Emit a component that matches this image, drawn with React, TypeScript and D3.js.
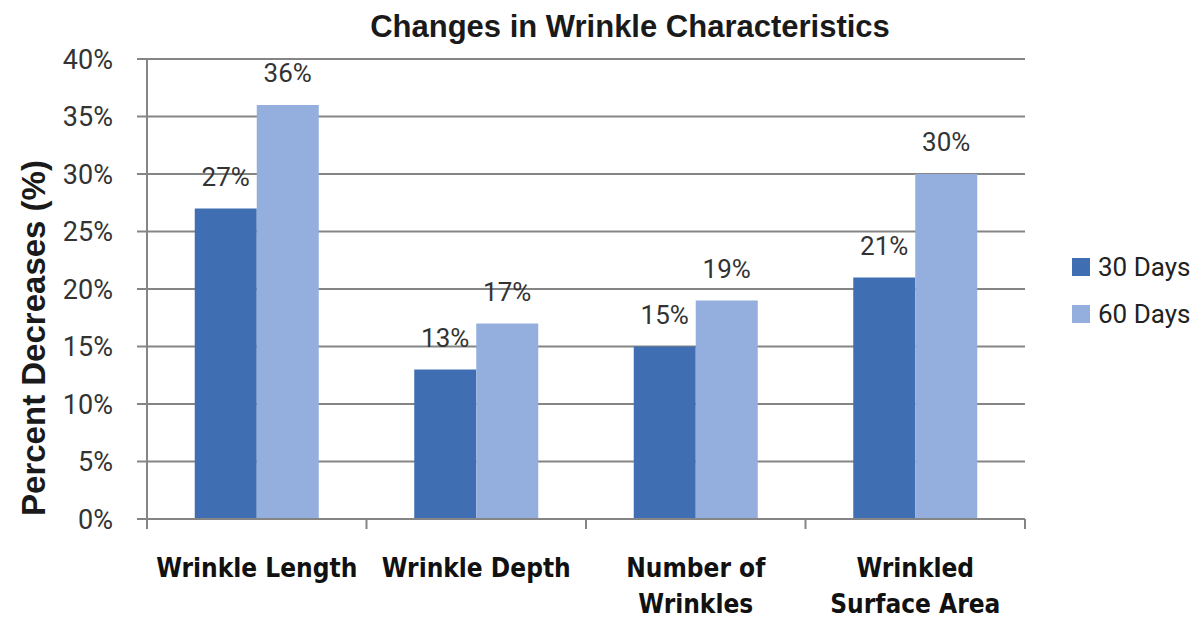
import React from 'react';
import * as d3 from 'd3';

const categories = ['Wrinkle Length', 'Wrinkle Depth', 'Number of\nWrinkles', 'Wrinkled\nSurface Area'];
const series = ['30 Days', '60 Days'];
const days30 = [27, 13, 15, 21];
const days60 = [36, 17, 19, 30];
const yTicks = [0, 5, 10, 15, 20, 25, 30, 35, 40];

const colors = ['#3f6fb2', '#94afdd'];
const gridColor = '#858585';

const W = 1199;
const H = 621;
const margin = { left: 147, right: 174, top: 59, bottom: 102 };

export default function App() {
  const x0 = d3
    .scaleBand<string>()
    .domain(categories)
    .range([margin.left, W - margin.right])
    .padding(0);

  const x1 = d3
    .scaleBand<string>()
    .domain(series)
    .range([0, x0.bandwidth()])
    .paddingInner(0)
    .paddingOuter(0.77);

  const y = d3.scaleLinear().domain([0, 40]).range([H - margin.bottom, margin.top]);

  const values = [days30, days60];
  const tickX = [...categories.map((c) => x0(c) || 0), W - margin.right];

  return (
    <svg
      width={W}
      height={H}
      style={{ position: 'absolute', left: 0, top: 0, background: '#fff' }}
    >
      {/* gridlines + y ticks */}
      {yTicks.map((t) => (
        <g key={t}>
          <line
            x1={margin.left - 10}
            x2={W - margin.right}
            y1={y(t)}
            y2={y(t)}
            stroke={gridColor}
            strokeWidth={2}
          />
          <text
            x={113}
            y={y(t)}
            dy="0.36em"
            textAnchor="end"
            fontFamily="Roboto, Arial, sans-serif"
            fontSize={27}
            fill="#333"
          >
            {t}%
          </text>
        </g>
      ))}

      {/* y axis */}
      <line x1={margin.left} x2={margin.left} y1={y(40)} y2={y(0)} stroke={gridColor} strokeWidth={2} />

      {/* bars */}
      {categories.map((c, i) => (
        <g key={c} transform={`translate(${x0(c)},0)`}>
          {series.map((s, j) => {
            const v = values[j][i];
            const bx = x1(s) || 0;
            return (
              <g key={s}>
                <rect
                  x={bx}
                  y={y(v)}
                  width={x1.bandwidth()}
                  height={y(0) - y(v)}
                  fill={colors[j]}
                />
                <text
                  x={bx + x1.bandwidth() / 2}
                  y={y(v) - 23}
                  textAnchor="middle"
                  fontFamily="Roboto, Arial, sans-serif"
                  fontSize={26}
                  fill="#333"
                >
                  {v}%
                </text>
              </g>
            );
          })}
        </g>
      ))}

      {/* x axis */}
      <line x1={margin.left} x2={W - margin.right} y1={y(0)} y2={y(0)} stroke={gridColor} strokeWidth={2} />
      {tickX.map((tx, i) => (
        <line key={i} x1={tx} x2={tx} y1={y(0)} y2={y(0) + 10} stroke={gridColor} strokeWidth={2} />
      ))}

      {/* category labels */}
      {categories.map((c) => (
        <text
          key={c}
          x={(x0(c) || 0) + x0.bandwidth() / 2}
          y={577}
          textAnchor="middle"
          fontFamily="'DejaVu Sans Condensed', 'DejaVu Sans', sans-serif"
          fontStretch="condensed"
          fontWeight="bold"
          fontSize={26}
          fill="#111"
        >
          {c.split('\n').map((line, k) => (
            <tspan key={k} x={(x0(c) || 0) + x0.bandwidth() / 2} dy={k === 0 ? 0 : 36}>
              {line}
            </tspan>
          ))}
        </text>
      ))}

      {/* title */}
      <text
        x={630}
        y={37}
        textAnchor="middle"
        fontFamily="'Liberation Sans', Arial, sans-serif"
        fontWeight="bold"
        fontSize={31}
        fill="#1a1a1a"
      >
        Changes in Wrinkle Characteristics
      </text>

      {/* y axis title */}
      <text
        transform={`translate(45,338) rotate(-90)`}
        textAnchor="middle"
        fontFamily="'Liberation Sans', Arial, sans-serif"
        fontWeight="bold"
        fontSize={33}
        fill="#1a1a1a"
      >
        Percent Decreases (%)
      </text>

      {/* legend */}
      {series.map((s, j) => (
        <g key={s} transform={`translate(1072,${258 + j * 47})`}>
          <rect width={18} height={18} fill={colors[j]} />
          <text x={26} y={9} dy="0.36em" fontFamily="Roboto, Arial, sans-serif" fontSize={26} fill="#222">
            {s}
          </text>
        </g>
      ))}
    </svg>
  );
}
